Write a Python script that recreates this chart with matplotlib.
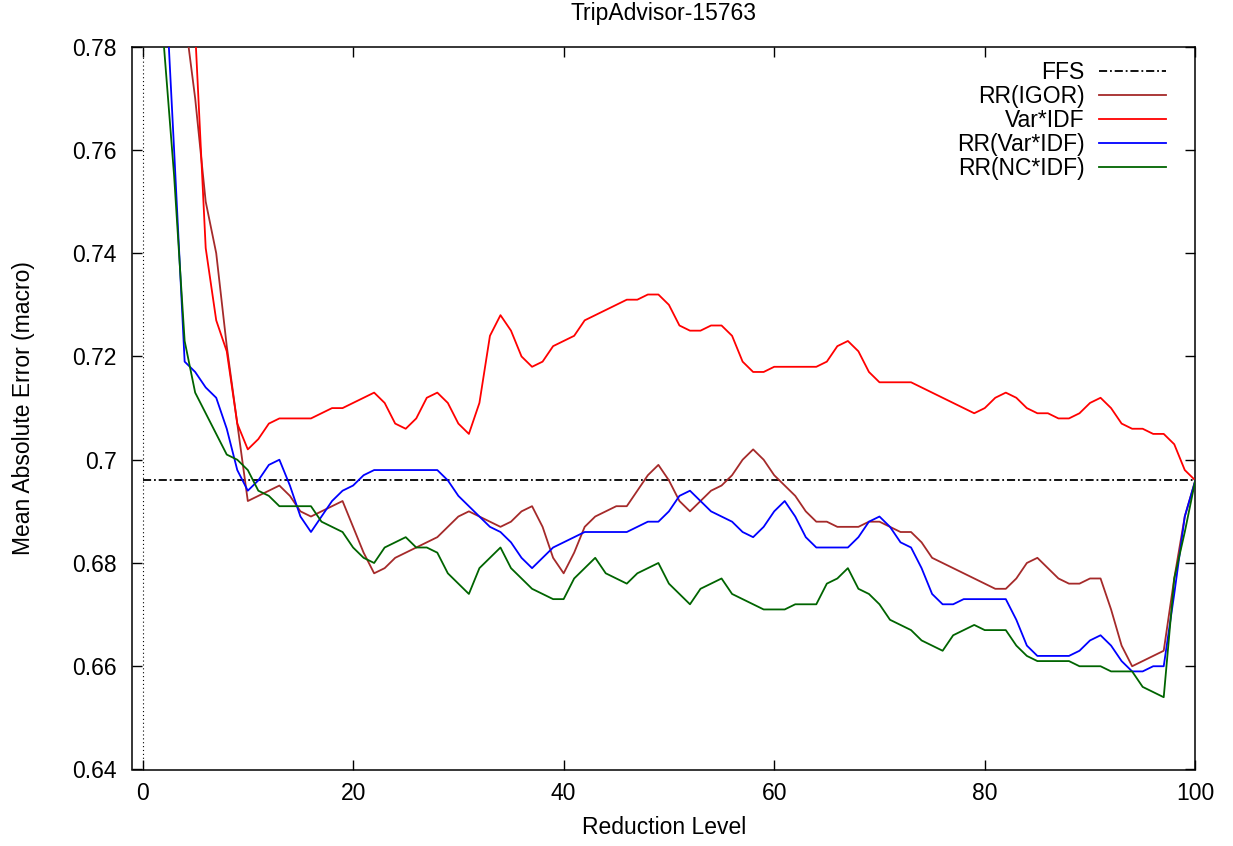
import matplotlib
matplotlib.use("Agg")
import matplotlib.pyplot as plt
from matplotlib.ticker import FormatStrFormatter

plt.rcParams['font.family'] = ['Liberation Sans', 'DejaVu Sans']

# ---------------- data ----------------
title = "TripAdvisor-15763"
x_label = "Reduction Level"
y_label = "Mean Absolute Error (macro)"

labels = ["FFS", "RR(IGOR)", "Var*IDF", "RR(Var*IDF)", "RR(NC*IDF)"]

ffs_x = [0, 100]
ffs_y = [0.696, 0.696]

igor_start = 4
igor_y = [0.786, 0.770, 0.750, 0.740, 0.722, 0.707, 0.692, 0.693, 0.694, 0.695,
          0.693, 0.690, 0.689, 0.690, 0.691, 0.692, 0.687, 0.682, 0.678, 0.679,
          0.681, 0.682, 0.683, 0.684, 0.685, 0.687, 0.689, 0.690, 0.689, 0.688,
          0.687, 0.688, 0.690, 0.691, 0.687, 0.681, 0.678, 0.682, 0.687, 0.689,
          0.690, 0.691, 0.691, 0.694, 0.697, 0.699, 0.696, 0.692, 0.690, 0.692,
          0.694, 0.695, 0.697, 0.700, 0.702, 0.700, 0.697, 0.695, 0.693, 0.690,
          0.688, 0.688, 0.687, 0.687, 0.687, 0.688, 0.688, 0.687, 0.686, 0.686,
          0.684, 0.681, 0.680, 0.679, 0.678, 0.677, 0.676, 0.675, 0.675, 0.677,
          0.680, 0.681, 0.679, 0.677, 0.676, 0.676, 0.677, 0.677, 0.671, 0.664,
          0.660, 0.661, 0.662, 0.663, 0.677, 0.689, 0.696]

varidf_start = 5
varidf_y = [0.783, 0.741, 0.727, 0.721, 0.707, 0.702, 0.704, 0.707, 0.708, 0.708,
            0.708, 0.708, 0.709, 0.710, 0.710, 0.711, 0.712, 0.713, 0.711, 0.707,
            0.706, 0.708, 0.712, 0.713, 0.711, 0.707, 0.705, 0.711, 0.724, 0.728,
            0.725, 0.720, 0.718, 0.719, 0.722, 0.723, 0.724, 0.727, 0.728, 0.729,
            0.730, 0.731, 0.731, 0.732, 0.732, 0.730, 0.726, 0.725, 0.725, 0.726,
            0.726, 0.724, 0.719, 0.717, 0.717, 0.718, 0.718, 0.718, 0.718, 0.718,
            0.719, 0.722, 0.723, 0.721, 0.717, 0.715, 0.715, 0.715, 0.715, 0.714,
            0.713, 0.712, 0.711, 0.710, 0.709, 0.710, 0.712, 0.713, 0.712, 0.710,
            0.709, 0.709, 0.708, 0.708, 0.709, 0.711, 0.712, 0.710, 0.707, 0.706,
            0.706, 0.705, 0.705, 0.703, 0.698, 0.696]

rrvar_start = 2
rrvar_y = [0.800, 0.760, 0.719, 0.717, 0.714, 0.712, 0.706, 0.698, 0.694, 0.696,
           0.699, 0.700, 0.695, 0.689, 0.686, 0.689, 0.692, 0.694, 0.695, 0.697,
           0.698, 0.698, 0.698, 0.698, 0.698, 0.698, 0.698, 0.696, 0.693, 0.691,
           0.689, 0.687, 0.686, 0.684, 0.681, 0.679, 0.681, 0.683, 0.684, 0.685,
           0.686, 0.686, 0.686, 0.686, 0.686, 0.687, 0.688, 0.688, 0.690, 0.693,
           0.694, 0.692, 0.690, 0.689, 0.688, 0.686, 0.685, 0.687, 0.690, 0.692,
           0.689, 0.685, 0.683, 0.683, 0.683, 0.683, 0.685, 0.688, 0.689, 0.687,
           0.684, 0.683, 0.679, 0.674, 0.672, 0.672, 0.673, 0.673, 0.673, 0.673,
           0.673, 0.669, 0.664, 0.662, 0.662, 0.662, 0.662, 0.663, 0.665, 0.666,
           0.664, 0.661, 0.659, 0.659, 0.660, 0.660, 0.674, 0.689, 0.696]

rrnc_start = 2
rrnc_y = [0.781, 0.755, 0.723, 0.713, 0.709, 0.705, 0.701, 0.700, 0.698, 0.694,
          0.693, 0.691, 0.691, 0.691, 0.691, 0.688, 0.687, 0.686, 0.683, 0.681,
          0.680, 0.683, 0.684, 0.685, 0.683, 0.683, 0.682, 0.678, 0.676, 0.674,
          0.679, 0.681, 0.683, 0.679, 0.677, 0.675, 0.674, 0.673, 0.673, 0.677,
          0.679, 0.681, 0.678, 0.677, 0.676, 0.678, 0.679, 0.680, 0.676, 0.674,
          0.672, 0.675, 0.676, 0.677, 0.674, 0.673, 0.672, 0.671, 0.671, 0.671,
          0.672, 0.672, 0.672, 0.676, 0.677, 0.679, 0.675, 0.674, 0.672, 0.669,
          0.668, 0.667, 0.665, 0.664, 0.663, 0.666, 0.667, 0.668, 0.667, 0.667,
          0.667, 0.664, 0.662, 0.661, 0.661, 0.661, 0.661, 0.660, 0.660, 0.660,
          0.659, 0.659, 0.659, 0.656, 0.655, 0.654, 0.677, 0.686, 0.696]

x_ticks = [0, 20, 40, 60, 80, 100]
y_ticks = [0.64, 0.66, 0.68, 0.70, 0.72, 0.74, 0.76, 0.78]

# ---------------- figure ----------------
W, H = 1233, 846
fig = plt.figure(figsize=(W / 100, H / 100), dpi=100)
ax = fig.add_axes([132 / W, 1 - 769.5 / H, (1195.3 - 132) / W, (769.5 - 46.7) / H])

FS = 16.5
lw = 1.3

# zero axis (dotted)
ax.axvline(0, color='black', lw=0.8, linestyle=(0, (1, 2.5)), zorder=1)

ax.plot(ffs_x, ffs_y, color='black', lw=lw, linestyle=(0, (4.5, 1.6, 1.0, 1.6)),
        label=labels[0], zorder=2)
ax.plot(list(range(igor_start, igor_start + len(igor_y))), igor_y,
        color='#a52a2a', lw=lw, label=labels[1], zorder=3)
ax.plot(list(range(varidf_start, varidf_start + len(varidf_y))), varidf_y,
        color='#ff0000', lw=lw, label=labels[2], zorder=3)
ax.plot(list(range(rrvar_start, rrvar_start + len(rrvar_y))), rrvar_y,
        color='#0000ff', lw=lw, label=labels[3], zorder=3)
ax.plot(list(range(rrnc_start, rrnc_start + len(rrnc_y))), rrnc_y,
        color='#006400', lw=lw, label=labels[4], zorder=3)

ax.set_xlim(-1, 100)
ax.set_ylim(0.64, 0.78)
ax.set_xticks(x_ticks)
ax.set_yticks(y_ticks)
ax.yaxis.set_major_formatter(FormatStrFormatter('%g'))
ax.tick_params(direction='in', length=7, width=1.0, top=True, right=True,
               labelsize=FS, pad=9)
ax.tick_params(axis='y', pad=11)
for s in ax.spines.values():
    s.set_linewidth(1.1)

ax.set_title(title, fontsize=FS, pad=19)
ax.set_xlabel(x_label, fontsize=FS, labelpad=8)
ax.set_ylabel(y_label, fontsize=FS, labelpad=27)

leg = ax.legend(loc='upper right', frameon=False, fontsize=FS, markerfirst=False,
                handlelength=2.9, handletextpad=0.65, labelspacing=0.05,
                borderaxespad=0.0, bbox_to_anchor=(0.981, 0.9935))
try:
    for col in leg._legend_handle_box.get_children():
        col.align = "right"
except Exception:
    pass

fig.savefig("out.png", dpi=100)
